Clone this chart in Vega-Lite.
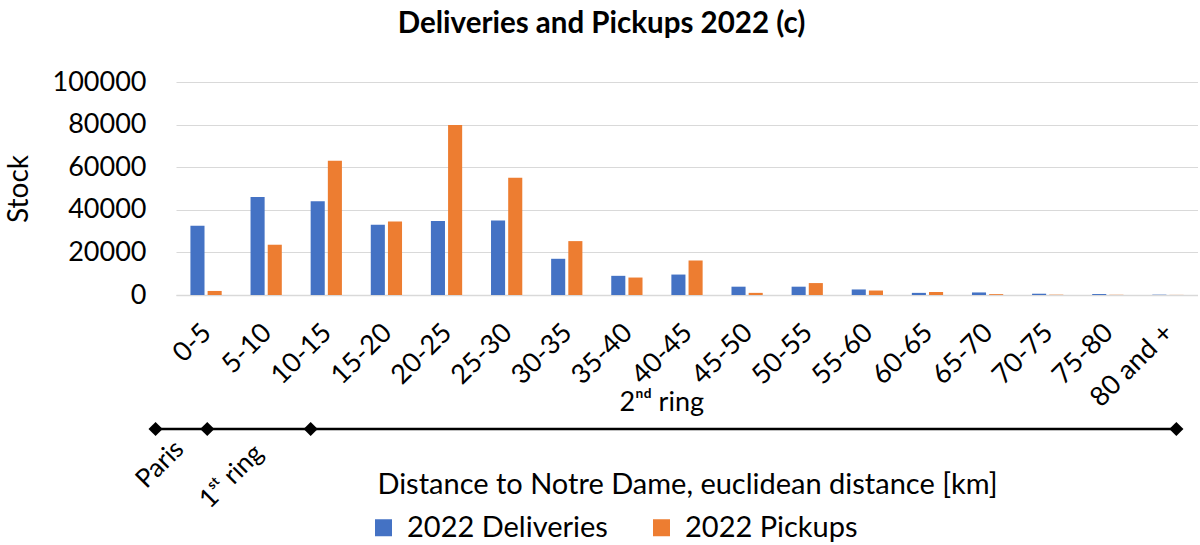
{
  "$schema": "https://vega.github.io/schema/vega-lite/v6.json",
  "background": "white",
  "padding": {"left": 5, "right": 0, "top": 8, "bottom": 0},
  "bounds": "flush",
  "title": {"text": "Deliveries and Pickups 2022 (c)", "fontSize": 29.5, "font": "Lato", "fontWeight": "bold", "color": "#000000", "anchor": "middle", "offset": 29},
  "config": {
    "font": "Lato",
    "view": {"stroke": null},
    "axis": {"labelFont": "Lato", "titleFont": "Lato", "labelColor": "#000000", "titleColor": "#000000", "titleFontWeight": "normal"}
  },
  "datasets": {
    "bars": [
      {"range": "0-5", "series": "2022 Deliveries", "value": 32500},
      {"range": "0-5", "series": "2022 Pickups", "value": 1900},
      {"range": "5-10", "series": "2022 Deliveries", "value": 46000},
      {"range": "5-10", "series": "2022 Pickups", "value": 23600},
      {"range": "10-15", "series": "2022 Deliveries", "value": 44000},
      {"range": "10-15", "series": "2022 Pickups", "value": 63000},
      {"range": "15-20", "series": "2022 Deliveries", "value": 33000},
      {"range": "15-20", "series": "2022 Pickups", "value": 34500},
      {"range": "20-25", "series": "2022 Deliveries", "value": 34700},
      {"range": "20-25", "series": "2022 Pickups", "value": 79800},
      {"range": "25-30", "series": "2022 Deliveries", "value": 35000},
      {"range": "25-30", "series": "2022 Pickups", "value": 55000},
      {"range": "30-35", "series": "2022 Deliveries", "value": 17000},
      {"range": "30-35", "series": "2022 Pickups", "value": 25300},
      {"range": "35-40", "series": "2022 Deliveries", "value": 9000},
      {"range": "35-40", "series": "2022 Pickups", "value": 8200},
      {"range": "40-45", "series": "2022 Deliveries", "value": 9600},
      {"range": "40-45", "series": "2022 Pickups", "value": 16200},
      {"range": "45-50", "series": "2022 Deliveries", "value": 3900},
      {"range": "45-50", "series": "2022 Pickups", "value": 1000},
      {"range": "50-55", "series": "2022 Deliveries", "value": 3900},
      {"range": "50-55", "series": "2022 Pickups", "value": 5600},
      {"range": "55-60", "series": "2022 Deliveries", "value": 2600},
      {"range": "55-60", "series": "2022 Pickups", "value": 2100},
      {"range": "60-65", "series": "2022 Deliveries", "value": 1000},
      {"range": "60-65", "series": "2022 Pickups", "value": 1400},
      {"range": "65-70", "series": "2022 Deliveries", "value": 1200},
      {"range": "65-70", "series": "2022 Pickups", "value": 400},
      {"range": "70-75", "series": "2022 Deliveries", "value": 600},
      {"range": "70-75", "series": "2022 Pickups", "value": 150},
      {"range": "75-80", "series": "2022 Deliveries", "value": 450},
      {"range": "75-80", "series": "2022 Pickups", "value": 100},
      {"range": "80 and +", "series": "2022 Deliveries", "value": 150},
      {"range": "80 and +", "series": "2022 Pickups", "value": 50}
    ],
    "markers": [{"pos": -1.7}, {"pos": 2.6}, {"pos": 11.2}, {"pos": 83.2}],
    "segment": [{"start": -1.7, "end": 83.2}],
    "zones": [
      {"pos": 0.3, "lvl": -0.8, "label": "Paris"},
      {"pos": 6.9, "lvl": -1.0, "label": "1ˢᵗ ring"}
    ],
    "outer": [{"pos": 40.4, "lvl": 1.3, "label": "2ⁿᵈ ring"}]
  },
  "spacing": 94,
  "vconcat": [
    {
      "width": 1022,
      "height": 213,
      "data": {"name": "bars"},
      "mark": {"type": "bar"},
      "encoding": {
        "x": {
          "field": "range", "type": "nominal", "sort": null,
          "scale": {"paddingInner": 0.48, "paddingOuter": 0.24},
          "axis": {"title": null, "labelAngle": -45, "labelFontSize": 27, "ticks": false, "domainColor": "#d9d9d9", "domainWidth": 1.5, "labelPadding": 24, "labelOffset": -8}
        },
        "xOffset": {"field": "series", "type": "nominal", "scale": {"paddingInner": 0.18, "paddingOuter": 0}},
        "y": {
          "field": "value", "type": "quantitative",
          "scale": {"domain": [0, 100000]},
          "axis": {"title": "Stock", "titleFontSize": 28, "labelFontSize": 27, "values": [0, 20000, 40000, 60000, 80000, 100000], "format": "d", "domain": false, "ticks": false, "gridColor": "#d9d9d9", "gridWidth": 1.2, "labelPadding": 30, "titlePadding": 19}
        },
        "color": {
          "field": "series", "type": "nominal",
          "scale": {"domain": ["2022 Deliveries", "2022 Pickups"], "range": ["#4472C4", "#ED7D31"]},
          "legend": {"title": null, "orient": "none", "legendX": 193, "legendY": 431, "direction": "horizontal", "labelFontSize": 29, "labelFont": "Lato", "labelColor": "#000000", "symbolType": "square", "symbolSize": 289, "symbolStrokeWidth": 0, "columnPadding": 39, "labelOffset": 9, "labelLimit": 400}
        }
      }
    },
    {
      "width": 1022,
      "height": 80,
      "layer": [
        {
          "data": {"name": "segment"},
          "mark": {"type": "rule", "color": "#000000", "strokeWidth": 2.5},
          "encoding": {
            "x": {"field": "start", "type": "quantitative", "scale": {"domain": [0, 85], "nice": false, "zero": false}, "axis": {"title": "Distance to Notre Dame, euclidean distance [km]", "titleFontSize": 29, "labels": false, "ticks": false, "domain": false, "grid": false, "titlePadding": 1}},
            "x2": {"field": "end"},
            "y": {"datum": 0, "type": "quantitative", "scale": {"domain": [-2, 2], "nice": false}, "axis": null}
          }
        },
        {
          "data": {"name": "markers"},
          "mark": {"type": "point", "shape": "diamond", "filled": true, "color": "#000000", "size": 200, "opacity": 1},
          "encoding": {
            "x": {"field": "pos", "type": "quantitative"},
            "y": {"datum": 0, "type": "quantitative"}
          }
        },
        {
          "data": {"name": "zones"},
          "mark": {"type": "text", "angle": -45, "align": "right", "baseline": "middle", "fontSize": 26, "font": "Lato", "color": "#000000"},
          "encoding": {
            "x": {"field": "pos", "type": "quantitative"},
            "y": {"field": "lvl", "type": "quantitative"},
            "text": {"field": "label"}
          }
        },
        {
          "data": {"name": "outer"},
          "mark": {"type": "text", "align": "center", "baseline": "middle", "fontSize": 27, "font": "Lato", "color": "#000000"},
          "encoding": {
            "x": {"field": "pos", "type": "quantitative"},
            "y": {"field": "lvl", "type": "quantitative"},
            "text": {"field": "label"}
          }
        }
      ]
    }
  ]
}
